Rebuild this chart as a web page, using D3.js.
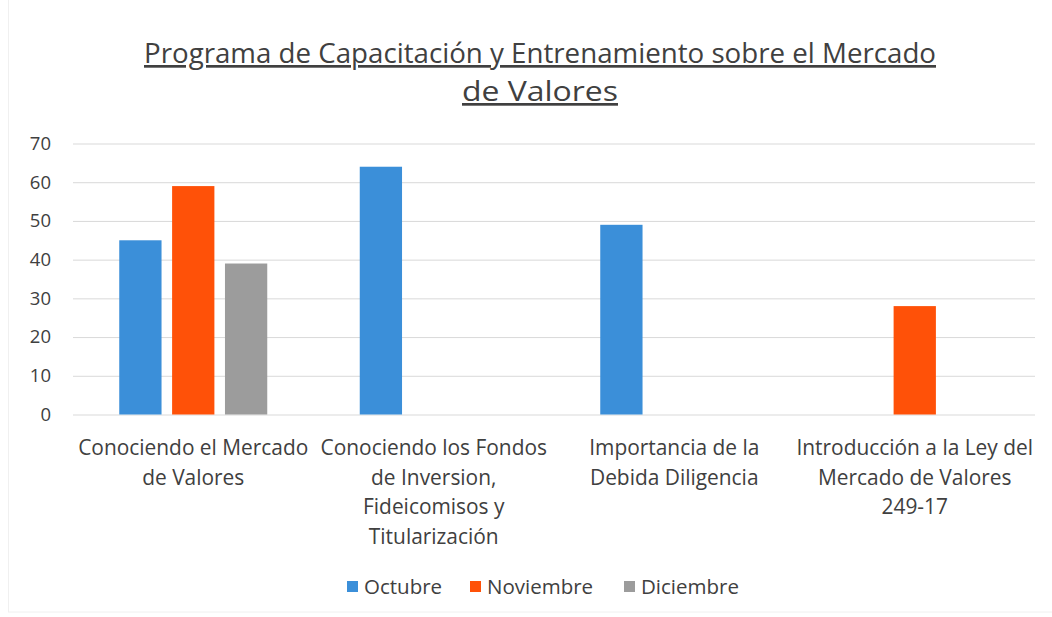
<!DOCTYPE html>
<html><head><meta charset="utf-8">
<script src="https://cdn.jsdelivr.net/npm/d3@7"></script>
<style>body{margin:0;background:#fff;} text{font-family:"Open Sans",sans-serif;}</style>
</head><body>
<svg id="c" width="1052" height="617"></svg>
<script>
const categories = [
  ["Conociendo el Mercado", "de Valores"],
  ["Conociendo los Fondos", "de Inversion,", "Fideicomisos y", "Titularización"],
  ["Importancia de la", "Debida Diligencia"],
  ["Introducción a la Ley del", "Mercado de Valores", "249-17"]
];
const seriesNames = ["Octubre", "Noviembre", "Diciembre"];
const octubre = [45, 64, 49, null];
const noviembre = [59, null, null, 28];
const diciembre = [39, null, null, null];
const yTicks = [0, 10, 20, 30, 40, 50, 60, 70];
const colors = ["#3b8fd9", "#ff5108", "#9c9c9c"];
const title = ["Programa de Capacitación y Entrenamiento sobre el Mercado", "de Valores"];

const svg = d3.select("#c");
const W = 1052, H = 617;
const m = {left: 73, right: 1035, top: 143.5, bottom: 414.5};

const x = d3.scaleBand().domain(d3.range(categories.length)).range([m.left, m.right]);
const xs = d3.scaleBand().domain(seriesNames).range([0, 148]).paddingInner(0.2);
const y = d3.scaleLinear().domain([0, 70]).range([m.bottom, m.top]);

// frame
svg.append("rect").attr("x", 8.5).attr("y", -2).attr("width", W - 6).attr("height", 614)
  .attr("fill", "none").attr("stroke", "#f0f0f0");

// title
const tl = [792, 156];
title.forEach((t, i) => {
  svg.append("text").attr("x", 540).attr("y", 63 + i * 38)
    .attr("text-anchor", "middle").attr("font-size", 27).attr("fill", "#404040")
    .style("text-decoration", "underline")
    .attr("textLength", tl[i]).attr("lengthAdjust", "spacingAndGlyphs").text(t);
});

// grid
const yAxis = d3.axisLeft(y).tickValues(yTicks).tickSize(-(m.right - m.left)).tickPadding(22);
const g = svg.append("g").attr("transform", `translate(${m.left},0)`).call(yAxis);
g.select(".domain").remove();
g.selectAll(".tick line").attr("stroke", "#d9d9d9").attr("stroke-width", 1);
g.selectAll(".tick text").attr("font-size", 18.5).attr("fill", "#404040")
  .style("font-family", "Open Sans, sans-serif");

// bars
const data = [octubre, noviembre, diciembre];
const offset = (x.bandwidth() - 148) / 2;
data.forEach((vals, si) => {
  svg.append("g").selectAll("rect").data(vals.map((v, i) => ({v, i})).filter(d => d.v != null))
    .join("rect")
    .attr("x", d => x(d.i) + offset + xs(seriesNames[si]))
    .attr("width", xs.bandwidth())
    .attr("y", d => y(d.v))
    .attr("height", d => y(0) - y(d.v))
    .attr("fill", colors[si]);
});

// category labels
categories.forEach((lines, i) => {
  const cx = x(i) + x.bandwidth() / 2;
  lines.forEach((l, j) => {
    svg.append("text").attr("x", cx).attr("y", 455 + j * 29.5).attr("text-anchor", "middle")
      .attr("font-size", 20.9).attr("fill", "#404040").text(l);
  });
});

// legend
const legX = [347, 470, 624];
seriesNames.forEach((n, i) => {
  svg.append("rect").attr("x", legX[i]).attr("y", 581).attr("width", 11).attr("height", 11).attr("fill", colors[i]);
  svg.append("text").attr("x", legX[i] + 17).attr("y", 594).attr("font-size", 20.5).attr("fill", "#404040").text(n);
});
</script>
</body></html>
